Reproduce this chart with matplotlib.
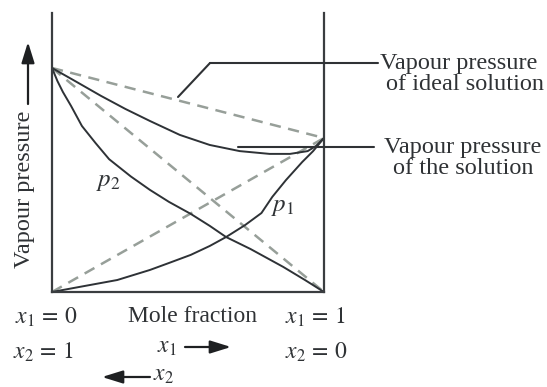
import matplotlib
matplotlib.use("Agg")
import matplotlib.pyplot as plt

# mole fraction of component 1 and vapour pressures
p1_pure = 55.2
p2_pure = 80.3

x_p2 = [0.00, 0.02, 0.04, 0.07, 0.11, 0.16, 0.21, 0.29, 0.36, 0.43, 0.51, 0.58, 0.64, 0.73, 0.85, 0.93, 1.00]
p2 = [80.3, 75.6, 71.7, 66.7, 59.5, 53.4, 47.6, 41.4, 36.6, 32.3, 28.0, 23.7, 19.7, 15.4, 9.0, 4.3, 0.0]

x_p1 = [0.00, 0.10, 0.24, 0.36, 0.43, 0.51, 0.58, 0.64, 0.71, 0.77, 0.81, 0.86, 0.92, 0.96, 1.00]
p1 = [0.0, 1.8, 4.3, 7.9, 10.4, 13.3, 16.5, 19.7, 24.0, 28.3, 34.1, 40.1, 46.6, 50.5, 55.2]

x_tot = [0.00, 0.085, 0.18, 0.27, 0.36, 0.47, 0.58, 0.69, 0.80, 0.875, 0.94, 0.97, 1.00]
p_tot = [80.3, 75.6, 70.3, 65.6, 61.3, 56.3, 52.7, 50.5, 49.5, 49.5, 50.5, 52.3, 55.2]

# ideal (Raoult) straight lines
x_ideal = [0.0, 1.0]
p1_ideal = [0.0, p1_pure]
p2_ideal = [p2_pure, 0.0]
tot_ideal = [p2_pure, p1_pure]

W, H = 547, 387
plt.rcParams['font.family'] = ['Liberation Serif', 'DejaVu Serif']
plt.rcParams['mathtext.fontset'] = 'stix'

fig = plt.figure(figsize=(W / 100, H / 100), dpi=100)
ax = fig.add_axes([52 / W, 1 - 292 / H, 272 / W, 279 / H])
ax.set_xlim(0, 1)
ax.set_ylim(0, 100)
ax.set_xticks([])
ax.set_yticks([])
ax.spines['top'].set_visible(False)
for s in ['left', 'right', 'bottom']:
    ax.spines[s].set_linewidth(1.6)
    ax.spines[s].set_color('#3a3d40')

dash = dict(color='#979f99', lw=1.8, dashes=(4.5, 3), clip_on=False)
ax.plot(x_ideal, p1_ideal, **dash)
ax.plot(x_ideal, p2_ideal, **dash)
ax.plot(x_ideal, tot_ideal, **dash)

solid = dict(color='#2e3236', lw=1.4, clip_on=False, solid_capstyle='round')
ax.plot(x_p2, p2, **solid)
ax.plot(x_p1, p1, **solid)
ax.plot(x_tot, p_tot, **solid)


def P(x, y):
    # picture pixel (from top-left) -> figure pixels
    return (x, H - y)


txt = '#2f3235'

# leader lines
line = dict(arrowstyle='-', color=txt, lw=1.5, shrinkA=0, shrinkB=0)
ax.annotate('', xy=P(178, 97), xytext=P(210, 63), xycoords='figure pixels', arrowprops=line)
ax.annotate('', xy=P(210, 63), xytext=P(378, 63), xycoords='figure pixels', arrowprops=line)
ax.annotate('', xy=P(238, 147), xytext=P(374, 147), xycoords='figure pixels', arrowprops=line)


def label(s, x, y, ha='left', fs=17, **kw):
    ax.annotate(s, xy=P(x, y), xycoords='figure pixels', ha=ha, va='center',
                fontsize=fs, color=txt, annotation_clip=False, **kw)


label('Vapour pressure', 380, 63, fs=17.5)
label('of ideal solution', 386, 85, fs=17.5)
label('Vapour pressure', 384, 147, fs=17.5)
label('of the solution', 393, 168, fs=17.5)

label(r'$p_2$', 108, 182, ha='center', fs=18)
label(r'$p_1$', 283, 207, ha='center', fs=18)

label(r'$x_1\,=\,0$', 15, 317)
label(r'$x_2\,=\,1$', 13, 352)
label('Mole fraction', 192, 317, ha='center')
label(r'$x_1\,=\,1$', 285, 317)
label(r'$x_2\,=\,0$', 285, 352)
label(r'$x_1$', 157, 348)
label(r'$x_2$', 153, 376)

label('Vapour pressure', 25, 189, ha='center', rotation=90, fs=17.5)

arrow = dict(arrowstyle='-|>,head_length=0.9,head_width=0.28', color='#1e2022', lw=1.6,
             shrinkA=0, shrinkB=0, mutation_scale=14)
ax.annotate('', xy=P(28, 42), xytext=P(28, 104), xycoords='figure pixels', arrowprops=arrow)
ax.annotate('', xy=P(231, 347), xytext=P(185, 347), xycoords='figure pixels', arrowprops=arrow)
ax.annotate('', xy=P(102, 377), xytext=P(150, 377), xycoords='figure pixels', arrowprops=arrow)

fig.savefig('out.png', dpi=100)
